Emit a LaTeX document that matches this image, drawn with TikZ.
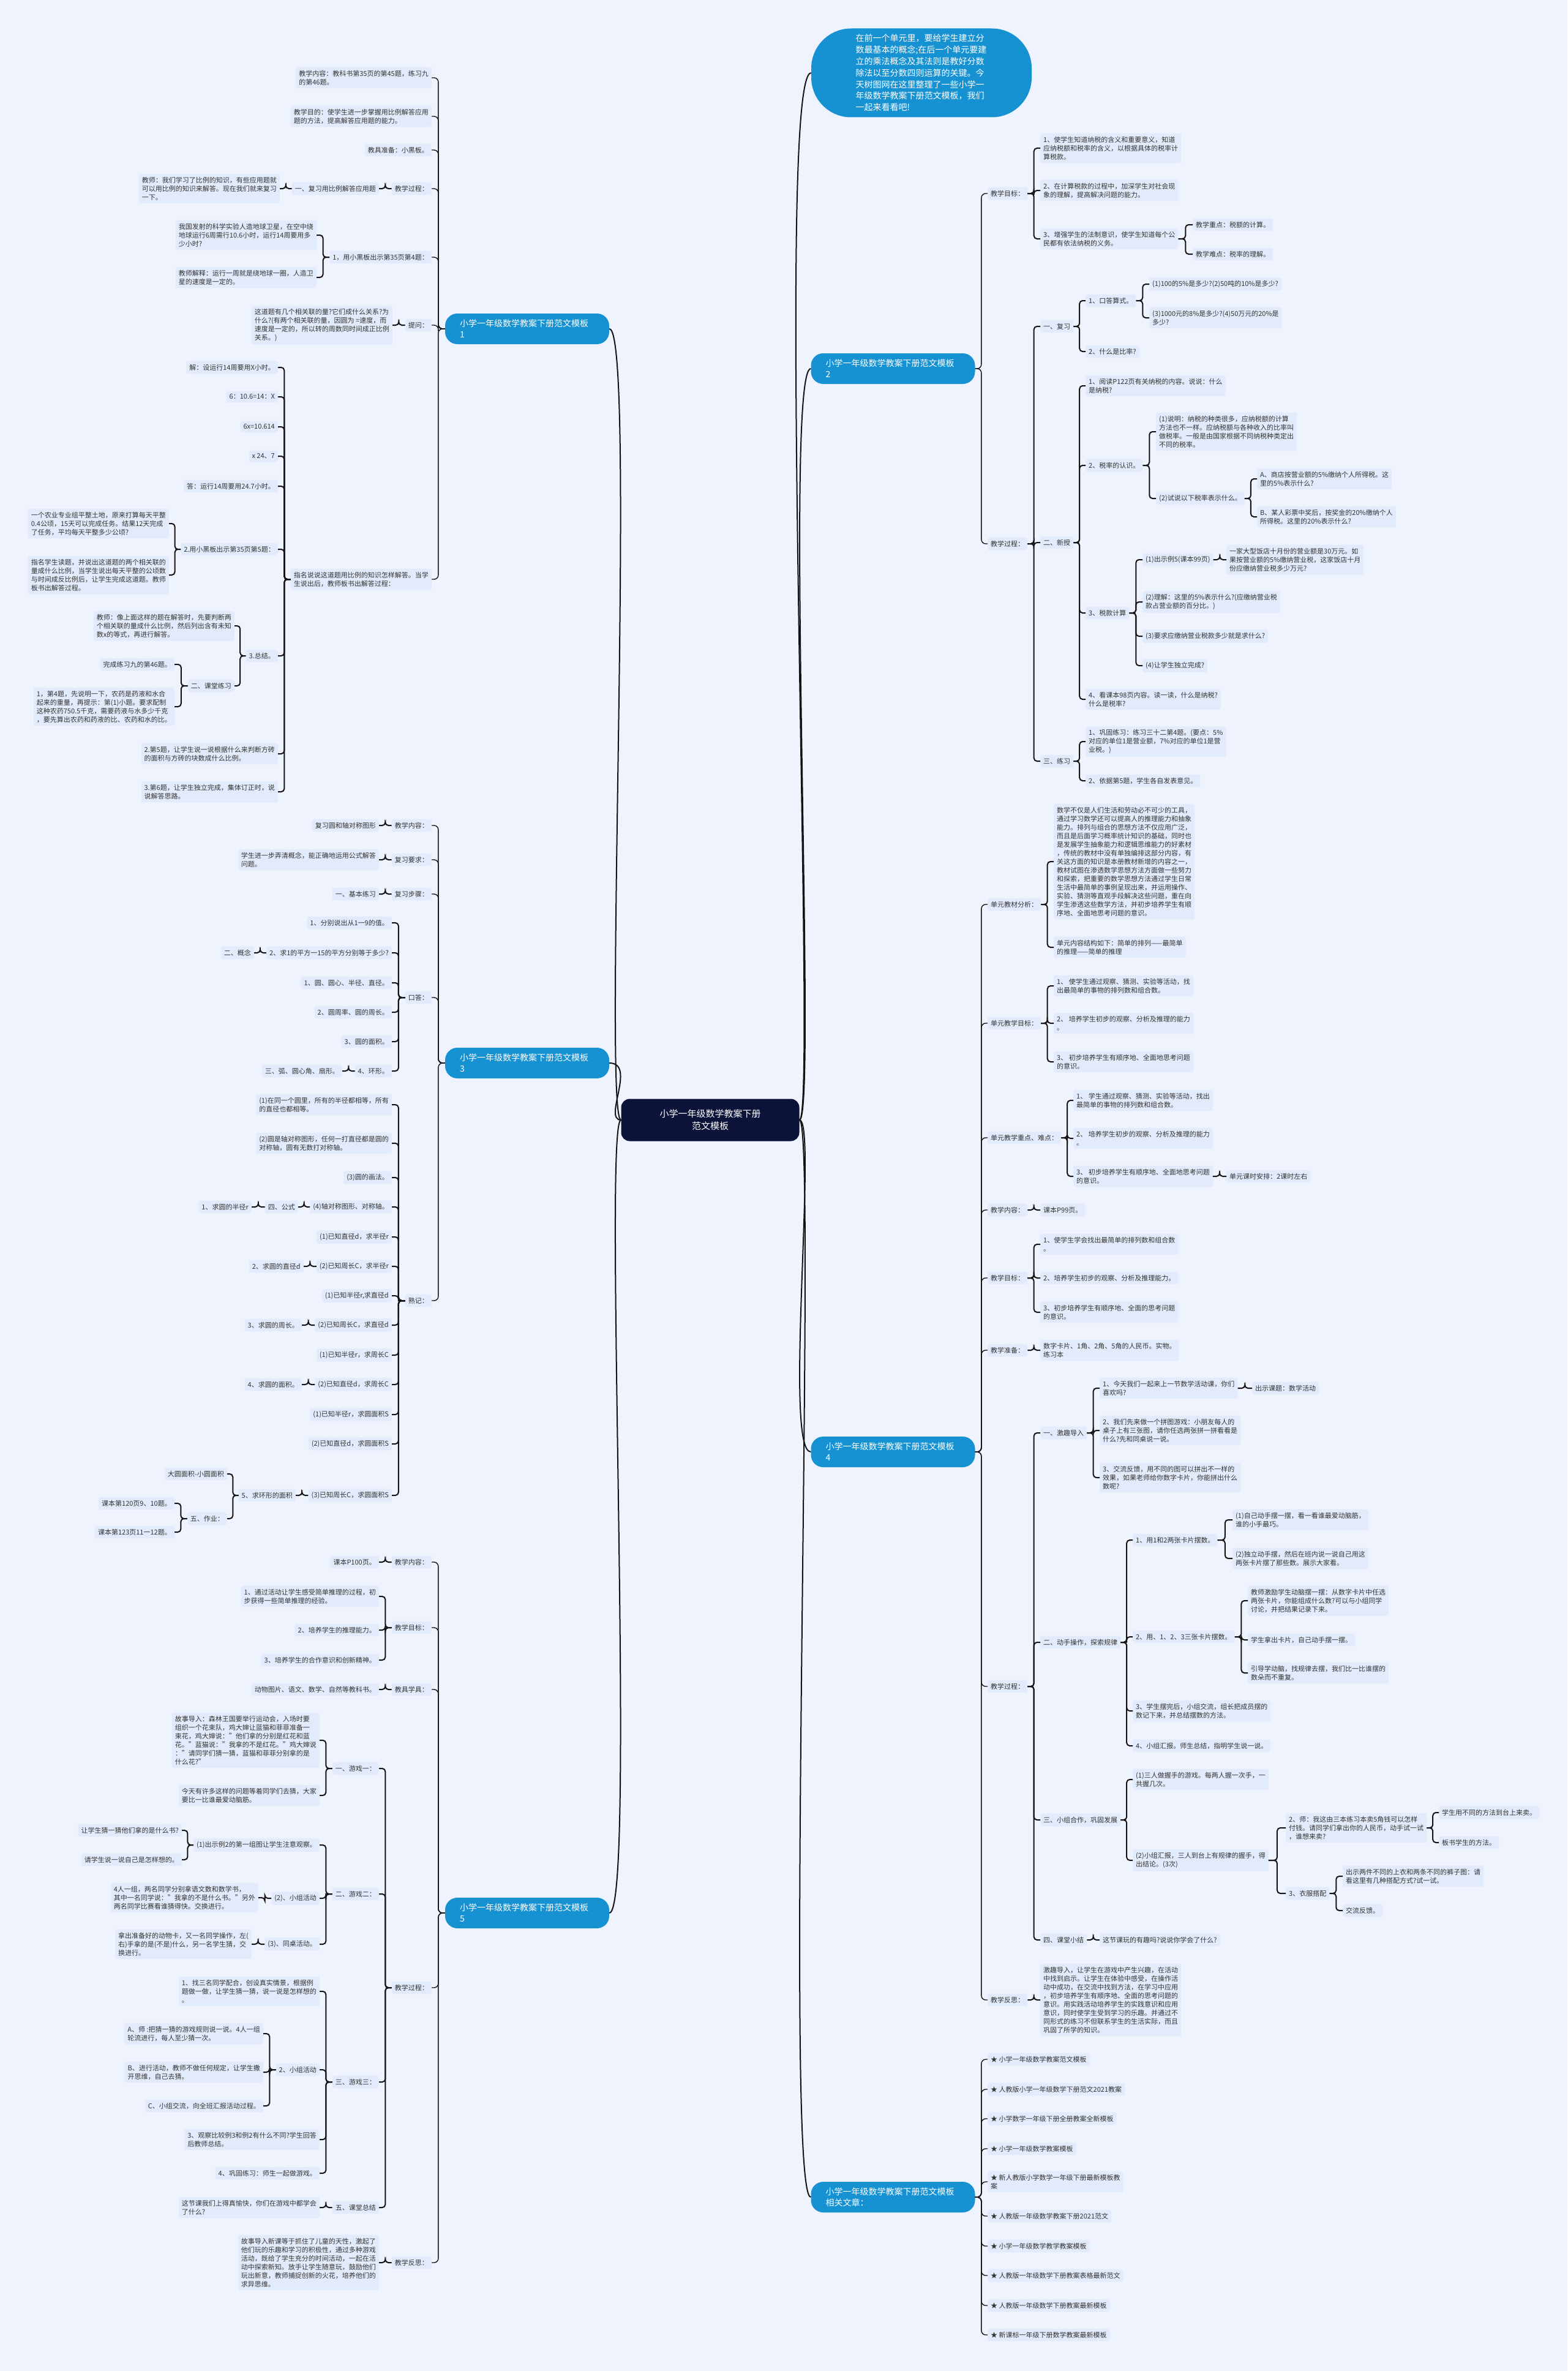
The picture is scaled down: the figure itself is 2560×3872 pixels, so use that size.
\documentclass[tikz,border=0pt]{standalone}
\usepackage{fontspec}
\setmainfont{Noto Sans CJK SC}
\usetikzlibrary{calc}
\definecolor{bgc}{RGB}{238,243,253}
\definecolor{leafc}{RGB}{226,235,251}
\definecolor{brc}{RGB}{22,145,210}
\definecolor{mainc}{RGB}{12,19,56}
\definecolor{linec}{RGB}{20,20,20}
\definecolor{txtc}{RGB}{51,51,51}
\newcommand\LinkL[3][br]{\draw[#1] (#2.west) -| ($(#2.west)!.5!(#3.east)$) |- (#3.east);}
\newcommand\LinkR[3][br]{\draw[#1] (#2.east) -| ($(#2.east)!.5!(#3.west)$) |- (#3.west);}
\tikzset{
 leaf/.style={fill=leafc, rounded corners=3pt, inner xsep=5pt, inner ysep=5pt, align=left, font=\fontsize{11}{14}\selectfont, text=txtc},
 L/.style={leaf, anchor=east},
 R/.style={leaf, anchor=west},
 branch/.style={fill=brc, text=white, rounded corners=20pt, minimum width=268pt, minimum height=50pt, text width=220pt, inner xsep=24pt, align=left, font=\fontsize{14}{18}\selectfont},
 br/.style={draw=linec, line width=2pt, rounded corners=5pt},
 lone/.style={draw=linec, line width=1.4pt, rounded corners=7pt},
 mline/.style={draw=linec, line width=2pt}
}
\begin{document}
\begin{tikzpicture}[x=1pt,y=-1pt]
\fill[bgc] (0,0) rectangle (2560,3872);
\useasboundingbox (0,0) rectangle (2560,3872);

% main
\node[fill=mainc, text=white, rounded corners=14pt, minimum width=291pt, minimum height=69pt, align=center, font=\fontsize{15}{20}\selectfont] (M) at (1160,1829) {小学一年级数学教案下册\\范文模板};

% branches
\node[fill=brc, text=white, rounded corners=65pt, minimum width=360pt, minimum height=145pt, text width=215pt, align=left, font=\fontsize{14}{18.8}\selectfont] (B0) at (1505,119) {在前一个单元里，要给学生建立分\\数最基本的概念;在后一个单元要建\\立的乘法概念及其法则是教好分数\\除法以至分数四则运算的关键。今\\天树图网在这里整理了一些小学一\\年级数学教案下册范文模板，我们\\一起来看看吧!};
\node[branch] (B1) at (861,537) {小学一年级数学教案下册范文模板\\1};
\node[branch] (B3) at (861,1736) {小学一年级数学教案下册范文模板\\3};
\node[branch] (B5) at (861,3124) {小学一年级数学教案下册范文模板\\5};
\node[branch] (B2) at (1458.5,602) {小学一年级数学教案下册范文模板\\2};
\node[branch] (B4) at (1458.5,2371) {小学一年级数学教案下册范文模板\\4};
\node[branch] (B6) at (1458.5,3588) {小学一年级数学教案下册范文模板\\相关文章：};

\draw[mline] (M.west) .. controls +(-30,0) and +(45,0) .. (B1.east);
\draw[mline] (M.west) .. controls +(-30,0) and +(45,0) .. (B3.east);
\draw[mline] (M.west) .. controls +(-30,0) and +(45,0) .. (B5.east);
\draw[mline] (M.east) .. controls +(30,0) and +(-60,0) .. (B0.west);
\draw[mline] (M.east) .. controls +(30,0) and +(-45,0) .. (B2.west);
\draw[mline] (M.east) .. controls +(30,0) and +(-45,0) .. (B4.west);
\draw[mline] (M.east) .. controls +(30,0) and +(-45,0) .. (B6.west);

%================ Node 1 =================
\node[L] (a1) at (705,127) {教学内容：教科书第35页的第45题，练习九\\的第46题。};
\node[L] (a2) at (705,190) {教学目的：使学生进一步掌握用比例解答应用\\题的方法，提高解答应用题的能力。};
\node[L] (a3) at (705,245) {教具准备：小黑板。};
\node[L] (a4) at (705,308) {教学过程：};
\node[L] (a41) at (619,308) {一、复习用比例解答应用题};
\node[L] (a411) at (457,308) {教师：我们学习了比例的知识，有些应用题就\\可以用比例的知识来解答。现在我们就来复习\\一下。};
\node[L] (a5) at (705,420) {1，用小黑板出示第35页第4题：};
\node[L] (a51) at (517,384) {我国发射的科学实验人造地球卫星，在空中绕\\地球运行6周需行10.6小时，运行14周要用多\\少小时?};
\node[L] (a52) at (517,453) {教师解释：运行一周就是绕地球一圈，人造卫\\星的速度是一定的。};
\node[L] (a6) at (705,531) {提问：};
\node[L] (a61) at (641,531) {这道题有几个相关联的量?它们成什么关系?为\\什么?(有两个相关联的量，因圆为 =速度，而\\速度是一定的，所以转的周数同时间成正比例\\关系。)};
\node[L] (a7) at (705,946) {指名说说这道题用比例的知识怎样解答。当学\\生说出后，教师板书出解答过程：};
\node[L] (a71) at (454,600) {解：设运行14周要用X小时。};
\node[L] (a72) at (454,648) {6：10.6=14：X};
\node[L] (a73) at (454,697) {6x=10.614};
\node[L] (a74) at (454,745) {x 24、7};
\node[L] (a75) at (454,794) {答：运行14周要用24.7小时。};
\node[L] (a76) at (454,897) {2.用小黑板出示第35页第5题：};
\node[L] (a761) at (276,855) {一个农业专业组平整土地，原来打算每天平整\\0.4公顷，15天可以完成任务。结果12天完成\\了任务，平均每天平整多少公顷?};
\node[L] (a762) at (276,939) {指名学生读题，并说出这道题的两个相关联的\\量成什么比例，当学生说出每天平整的公顷数\\与时间成反比例后，让学生完成这道题。教师\\板书出解答过程。};
\node[L] (a77) at (454,1071) {3.总结。};
\node[L] (a771) at (383,1022) {教师：像上面这样的题在解答时，先要判断两\\个相关联的量成什么比例，然后列出含有未知\\数x的等式，再进行解答。};
\node[L] (a772) at (383,1120) {二、课堂练习};
\node[L] (a7721) at (285,1085) {完成练习九的第46题。};
\node[L] (a7722) at (285,1154) {1，第4题，先说明一下，农药是药液和水合\\起来的重量，再提示：第(1)小题。要求配制\\这种农药750.5千克，需要药液与水多少千克\\，要先算出农药和药液的比、农药和水的比。};
\node[L] (a78) at (454,1231) {2.第5题，让学生说一说根据什么来判断方砖\\的面积与方砖的块数成什么比例。};
\node[L] (a79) at (454,1293) {3.第6题，让学生独立完成，集体订正时，说\\说解答思路。};

\foreach \c in {a1,a2,a3,a4,a5,a6,a7}{\LinkL[lone]{B1}{\c}}
\LinkL{a4}{a41} \LinkL{a41}{a411}
\LinkL{a5}{a51} \LinkL{a5}{a52}
\LinkL{a6}{a61}
\foreach \c in {a71,a72,a73,a74,a75,a76,a77,a78,a79}{\LinkL{a7}{\c}}
\LinkL{a76}{a761} \LinkL{a76}{a762}
\LinkL{a77}{a771} \LinkL{a77}{a772}
\LinkL{a772}{a7721} \LinkL{a772}{a7722}

%================ Node 3 =================
\node[L] (c1) at (705,1348) {教学内容：};
\node[L] (c11) at (619,1348) {复习圆和轴对称图形};
\node[L] (c2) at (705,1404) {复习要求：};
\node[L] (c21) at (619,1404) {学生进一步弄清概念，能正确地运用公式解答\\问题。};
\node[L] (c3) at (705,1460) {复习步骤：};
\node[L] (c31) at (619,1460) {一、基本练习};
\node[L] (c4) at (705,1629) {口答：};
\node[L] (c41) at (640,1507) {1、分别说出从1一9的值。};
\node[L] (c42) at (640,1556) {2、求1的平方一15的平方分别等于多少?};
\node[L] (c421) at (415,1556) {二、概念};
\node[L] (c43) at (640,1605) {1、圆、圆心、半径、直径。};
\node[L] (c44) at (640,1653) {2、圆周率、圆的周长。};
\node[L] (c45) at (640,1701) {3、圆的面积。};
\node[L] (c46) at (640,1749) {4、环形。};
\node[L] (c461) at (559,1749) {三、弧、圆心角、扇形。};
\node[L] (c5) at (705,2124) {熟记：};
\node[L] (c51) at (640,1804) {(1)在同一个圆里，所有的半径都相等，所有\\的直径也都相等。};
\node[L] (c52) at (640,1867) {(2)圆是轴对称图形，任何一打直径都是圆的\\对称轴，圆有无数打对称轴。};
\node[L] (c53) at (640,1923) {(3)圆的画法。};
\node[L] (c54) at (640,1971) {(4)轴对称图形、对称轴。};
\node[L] (c541) at (487,1971) {四、公式};
\node[L] (c5411) at (411,1971) {1、求圆的半径r};
\node[L] (c55) at (640,2020) {(1)已知直径d，求半径r};
\node[L] (c56) at (640,2068) {(2)已知周长C，求半径r};
\node[L] (c561) at (496,2068) {2、求圆的直径d};
\node[L] (c57) at (640,2116) {(1)已知半径r,求直径d};
\node[L] (c58) at (640,2164) {(2)已知周长C，求直径d};
\node[L] (c581) at (493,2164) {3、求圆的周长。};
\node[L] (c59) at (640,2213) {(1)已知半径r，求周长C};
\node[L] (c5a) at (640,2261) {(2)已知直径d，求周长C};
\node[L] (c5a1) at (493,2261) {4、求圆的面积。};
\node[L] (c5b) at (640,2310) {(1)已知半径r，求圆面积S};
\node[L] (c5c) at (640,2358) {(2)已知直径d，求圆面积S};
\node[L] (c5d) at (640,2442) {(3)已知周长C，求圆面积S};
\node[L] (c5d1) at (483,2442) {5、求环形的面积};
\node[L] (c5d11) at (371,2407) {大圆面积-小圆面积};
\node[L] (c5d12) at (371,2480) {五、作业：};
\node[L] (c5d121) at (285,2455) {课本第120页9、10题。};
\node[L] (c5d122) at (285,2502) {课本第123页11一12题。};

\foreach \c in {c1,c2,c3,c4,c5}{\LinkL[lone]{B3}{\c}}
\LinkL{c1}{c11} \LinkL{c2}{c21} \LinkL{c3}{c31}
\foreach \c in {c41,c42,c43,c44,c45,c46}{\LinkL{c4}{\c}}
\LinkL{c42}{c421} \LinkL{c46}{c461}
\foreach \c in {c51,c52,c53,c54,c55,c56,c57,c58,c59,c5a,c5b,c5c,c5d}{\LinkL{c5}{\c}}
\LinkL{c54}{c541} \LinkL{c541}{c5411}
\LinkL{c56}{c561} \LinkL{c58}{c581} \LinkL{c5a}{c5a1}
\LinkL{c5d}{c5d1} \LinkL{c5d1}{c5d11} \LinkL{c5d1}{c5d12}
\LinkL{c5d12}{c5d121} \LinkL{c5d12}{c5d122}

%================ Node 5 =================
\node[L] (e1) at (705,2551) {教学内容：};
\node[L] (e11) at (619,2551) {课本P100页。};
\node[L] (e2) at (705,2658) {教学目标：};
\node[L] (e21) at (619,2607) {1、通过活动让学生感受简单推理的过程，初\\步获得一些简单推理的经验。};
\node[L] (e22) at (619,2662) {2、培养学生的推理能力。};
\node[L] (e23) at (619,2711) {3、培养学生的合作意识和创新精神。};
\node[L] (e3) at (705,2759) {教具学具：};
\node[L] (e31) at (619,2759) {动物图片、语文、数学、自然等教科书。};
\node[L] (e4) at (705,3246) {教学过程：};
\node[L] (e41) at (619,2888) {一、游戏一：};
\node[L] (e411) at (522,2842) {故事导入：森林王国要举行运动会，入场时要\\组织一个花束队，鸡大婶让蓝猫和菲菲准备一\\束花，鸡大婶说："他们拿的分别是红花和蓝\\花。"蓝猫说："我拿的不是红花。"鸡大婶说\\："请同学们猜一猜，蓝猫和菲菲分别拿的是\\什么花?"};
\node[L] (e412) at (522,2932) {今天有许多这样的问题等着同学们去猜，大家\\要比一比谁最爱动脑筋。};
\node[L] (e42) at (619,3093) {二、游戏二：};
\node[L] (e421) at (522,3013) {(1)出示例2的第一组图让学生注意观察。};
\node[L] (e4211) at (297,2989) {让学生猜一猜他们拿的是什么书?};
\node[L] (e4212) at (297,3037) {请学生说一说自己是怎样想的。};
\node[L] (e422) at (522,3100) {(2)、小组活动};
\node[L] (e4221) at (422,3099) {4人一组，两名同学分别拿语文数和数学书，\\其中一名同学说："我拿的不是什么书。"另外\\两名同学比赛看谁猜得快。交换进行。};
\node[L] (e423) at (522,3175) {(3)、同桌活动。};
\node[L] (e4231) at (411,3175) {拿出准备好的动物卡，又一名同学操作，左(\\右)手拿的是(不是)什么，另一名学生猜，交\\换进行。};
\node[L] (e43) at (619,3400) {三、游戏三：};
\node[L] (e431) at (522,3252) {1、找三名同学配合，创设真实情景，根据例\\题做一做，让学生猜一猜，说一说是怎样想的\\。};
\node[L] (e432) at (522,3380) {2、小组活动};
\node[L] (e4321) at (430,3321) {A、师 :把猜一猜的游戏规则说一说。4人一组\\轮流进行，每人至少猜一次。};
\node[L] (e4322) at (430,3384) {B、进行活动，教师不做任何规定，让学生撒\\开思维，自己去猜。};
\node[L] (e4323) at (430,3439) {C、小组交流，向全班汇报活动过程。};
\node[L] (e433) at (522,3494) {3、观察比较例3和例2有什么不同?学生回答\\后教师总结。};
\node[L] (e434) at (522,3549) {4、巩固练习：师生一起做游戏。};
\node[L] (e44) at (619,3605) {五、课堂总结};
\node[L] (e441) at (522,3605) {这节课我们上得真愉快，你们在游戏中都学会\\了什么?};
\node[L] (e5) at (705,3695) {教学反思：};
\node[L] (e51) at (619,3695) {故事导入新课等于抓住了儿童的天性，激起了\\他们玩的乐趣和学习的积极性，通过多种游戏\\活动，既给了学生充分的时间活动，一起在活\\动中探索新知。放手让学生随意玩，鼓励他们\\玩出新意，教师捕捉创新的火花，培养他们的\\求异思维。};

\foreach \c in {e1,e2,e3,e4,e5}{\LinkL[lone]{B5}{\c}}
\LinkL{e1}{e11} \LinkL{e3}{e31} \LinkL{e5}{e51}
\foreach \c in {e21,e22,e23}{\LinkL{e2}{\c}}
\foreach \c in {e41,e42,e43,e44}{\LinkL{e4}{\c}}
\LinkL{e41}{e411} \LinkL{e41}{e412}
\foreach \c in {e421,e422,e423}{\LinkL{e42}{\c}}
\LinkL{e421}{e4211} \LinkL{e421}{e4212}
\LinkL{e422}{e4221} \LinkL{e423}{e4231}
\foreach \c in {e431,e432,e433,e434}{\LinkL{e43}{\c}}
\foreach \c in {e4321,e4322,e4323}{\LinkL{e432}{\c}}
\LinkL{e44}{e441}

%================ Node 2 =================
\node[R] (b1) at (1613,316) {教学目标：};
\node[R] (b11) at (1699,242) {1、使学生知道纳税的含义和重要意义，知道\\应纳税额和税率的含义，以根据具体的税率计\\算税款。};
\node[R] (b12) at (1699,311) {2、在计算税款的过程中，加深学生对社会现\\象的理解，提高解决问题的能力。};
\node[R] (b13) at (1699,390) {3、增强学生的法制意识，使学生知道每个公\\民都有依法纳税的义务。};
\node[R] (b131) at (1948,367) {教学重点：税额的计算。};
\node[R] (b132) at (1948,415) {教学难点：税率的理解。};
\node[R] (b2) at (1613,888) {教学过程：};
\node[R] (b21) at (1699,533) {一、复习};
\node[R] (b211) at (1773,491) {1、口答算式。};
\node[R] (b2111) at (1877,464) {(1)100的5\%是多少?(2)50吨的10\%是多少?};
\node[R] (b2112) at (1877,519) {(3)1000元的8\%是多少?(4)50万元的20\%是\\多少?};
\node[R] (b212) at (1773,574) {2、什么是比率?};
\node[R] (b22) at (1699,886) {二、新授};
\node[R] (b221) at (1773,630) {1、阅读P122页有关纳税的内容。说说：什么\\是纳税?};
\node[R] (b222) at (1773,760) {2、税率的认识。};
\node[R] (b2221) at (1888,705) {(1)说明：纳税的种类很多，应纳税额的计算\\方法也不一样。应纳税额与各种收入的比率叫\\做税率。一般是由国家根据不同纳税种类定出\\不同的税率。};
\node[R] (b2222) at (1888,814) {(2)试说以下税率表示什么。};
\node[R] (b22221) at (2053,782) {A、商店按营业额的5\%缴纳个人所得税。这\\里的5\%表示什么?};
\node[R] (b22222) at (2053,844) {B、某人彩票中奖后，按奖金的20\%缴纳个人\\所得税。这里的20\%表示什么?};
\node[R] (b223) at (1773,1001) {3、税款计算};
\node[R] (b2231) at (1866,914) {(1)出示例5(课本99页)};
\node[R] (b22311) at (2003,914) {一家大型饭店十月份的营业额是30万元。如\\果按营业额的5\%缴纳营业税，这家饭店十月\\份应缴纳营业税多少万元?};
\node[R] (b2232) at (1866,983) {(2)理解：这里的5\%表示什么?(应缴纳营业税\\款占营业额的百分比。)};
\node[R] (b2233) at (1866,1039) {(3)要求应缴纳营业税款多少就是求什么?};
\node[R] (b2234) at (1866,1087) {(4)让学生独立完成?};
\node[R] (b224) at (1773,1142) {4、看课本98页内容。读一读，什么是纳税?\\什么是税率?};
\node[R] (b23) at (1699,1243) {三、练习};
\node[R] (b231) at (1773,1211) {1、巩固练习：练习三十二第4题。(要点：5\%\\对应的单位1是营业额，7\%对应的单位1是营\\业税。)};
\node[R] (b232) at (1773,1275) {2、依据第5题，学生各自发表意见。};

\LinkR[lone]{B2}{b1} \LinkR[lone]{B2}{b2}
\foreach \c in {b11,b12,b13}{\LinkR{b1}{\c}}
\LinkR{b13}{b131} \LinkR{b13}{b132}
\foreach \c in {b21,b22,b23}{\LinkR{b2}{\c}}
\LinkR{b21}{b211} \LinkR{b21}{b212}
\LinkR{b211}{b2111} \LinkR{b211}{b2112}
\foreach \c in {b221,b222,b223,b224}{\LinkR{b22}{\c}}
\LinkR{b222}{b2221} \LinkR{b222}{b2222}
\LinkR{b2222}{b22221} \LinkR{b2222}{b22222}
\foreach \c in {b2231,b2232,b2233,b2234}{\LinkR{b223}{\c}}
\LinkR{b2231}{b22311}
\LinkR{b23}{b231} \LinkR{b23}{b232}

%================ Node 4 =================
\node[R] (d1) at (1613,1477) {单元教材分析：};
\node[R] (d11) at (1721,1407) {数学不仅是人们生活和劳动必不可少的工具，\\通过学习数学还可以提高人的推理能力和抽象\\能力。排列与组合的思想方法不仅应用广泛，\\而且是后面学习概率统计知识的基础，同时也\\是发展学生抽象能力和逻辑思维能力的好素材\\，传统的教材中没有单独编排这部分内容，有\\关这方面的知识是本册教材新增的内容之一，\\教材试图在渗透数学思想方法方面做一些努力\\和探索，把重要的数学思想方法通过学生日常\\生活中最简单的事例呈现出来，并运用操作、\\实验、猜测等直观手段解决这些问题，重在向\\学生渗透这些数学方法，并初步培养学生有顺\\序地、全面地思考问题的意识。};
\node[R] (d12) at (1721,1547) {单元内容结构如下：简单的排列——最简单\\的推理——简单的推理};
\node[R] (d2) at (1613,1671) {单元教学目标：};
\node[R] (d21) at (1721,1610) {1、 使学生通过观察、猜测、实验等活动，找\\出最简单的事物的排列数和组合数。};
\node[R] (d22) at (1721,1671) {2、 培养学生初步的观察、分析及推理的能力\\。};
\node[R] (d23) at (1721,1734) {3、 初步培养学生有顺序地、全面地思考问题\\的意识。};
\node[R] (d3) at (1613,1858) {单元教学重点、难点：};
\node[R] (d31) at (1753,1797) {1、 学生通过观察、猜测、实验等活动，找出\\最简单的事物的排列数和组合数。};
\node[R] (d32) at (1753,1859) {2、 培养学生初步的观察、分析及推理的能力\\。};
\node[R] (d33) at (1753,1921) {3、 初步培养学生有顺序地、全面地思考问题\\的意识。};
\node[R] (d331) at (2003,1921) {单元课时安排：2课时左右};
\node[R] (d4) at (1613,1976) {教学内容：};
\node[R] (d41) at (1699,1976) {课本P99页。};
\node[R] (d5) at (1613,2087) {教学目标：};
\node[R] (d51) at (1699,2032) {1、使学生学会找出最简单的排列数和组合数\\。};
\node[R] (d52) at (1699,2087) {2、培养学生初步的观察、分析及推理能力。};
\node[R] (d53) at (1699,2143) {3、初步培养学生有顺序地、全面的思考问题\\的意识。};
\node[R] (d6) at (1613,2205) {教学准备：};
\node[R] (d61) at (1699,2205) {数字卡片、1角、2角、5角的人民币。实物。\\练习本};
\node[R] (d7) at (1613,2754) {教学过程：};
\node[R] (d71) at (1699,2340) {一、激趣导入};
\node[R] (d711) at (1796,2267) {1、今天我们一起来上一节数学活动课，你们\\喜欢吗?};
\node[R] (d7111) at (2045,2267) {出示课题：数学活动};
\node[R] (d712) at (1796,2336) {2、我们先来做一个拼图游戏：小朋友每人的\\桌子上有三张图，请你任选两张拼一拼看看是\\什么?先和同桌说一说。};
\node[R] (d713) at (1796,2413) {3、交流反馈，用不同的图可以拼出不一样的\\效果，如果老师给你数字卡片，你能拼出什么\\数呢?};
\node[R] (d72) at (1699,2682) {二、动手操作，探索规律};
\node[R] (d721) at (1850,2515) {1、用1和2两张卡片摆数。};
\node[R] (d7211) at (2013,2482) {(1)自己动手摆一摆，看一看谁最爱动脑筋，\\谁的小手最巧。};
\node[R] (d7212) at (2013,2545) {(2)独立动手摆，然后在班内说一说自己用这\\两张卡片摆了那些数。展示大家看。};
\node[R] (d722) at (1850,2673) {2、用、1、2、3三张卡片摆数。};
\node[R] (d7221) at (2038,2614) {教师激励学生动脑摆一摆：从数字卡片中任选\\两张卡片，你能组成什么数?可以与小组同学\\讨论，并把结果记录下来。};
\node[R] (d7222) at (2038,2678) {学生拿出卡片，自己动手摆一摆。};
\node[R] (d7223) at (2038,2732) {引导学动脑，找规律去摆，我们比一比谁摆的\\数朵而不重复。};
\node[R] (d723) at (1850,2794) {3、学生摆完后，小组交流，组长把成员摆的\\数记下来，并总结摆数的方法。};
\node[R] (d724) at (1850,2851) {4、小组汇报。师生总结，指明学生说一说。};
\node[R] (d73) at (1699,2972) {三、小组合作，巩固发展};
\node[R] (d731) at (1850,2906) {(1)三人做握手的游戏。每两人握一次手，一\\共握几次。};
\node[R] (d732) at (1850,3038) {(2)小组汇报，三人到台上有规律的握手，得\\出结论。(3次)};
\node[R] (d7321) at (2100,2985) {2、师：我这由三本练习本卖5角钱可以怎样\\付钱。请同学们拿出你的人民币，动手试一试\\，谁想来卖?};
\node[R] (d73211) at (2350,2960) {学生用不同的方法到台上来卖。};
\node[R] (d73212) at (2350,3009) {板书学生的方法。};
\node[R] (d7322) at (2100,3092) {3、衣服搭配};
\node[R] (d73221) at (2193,3064) {出示两件不同的上衣和两条不同的裤子图：请\\看这里有几种搭配方式?试一试。};
\node[R] (d73222) at (2193,3120) {交流反馈。};
\node[R] (d74) at (1699,3168) {四、课堂小结};
\node[R] (d741) at (1796,3168) {这节课玩的有趣吗?说说你学会了什么?};
\node[R] (d8) at (1613,3266) {教学反思：};
\node[R] (d81) at (1699,3266) {激趣导入，让学生在游戏中产生兴趣，在活动\\中找到启示。让学生在体验中感受，在操作活\\动中成功，在交流中找到方法，在学习中应用\\，初步培养学生有顺序地、全面的思考问题的\\意识。用实践活动培养学生的实践意识和应用\\意识，同时使学生受到学习的乐趣。并通过不\\同形式的练习不但联系学生的生活实际，而且\\巩固了所学的知识。};

\foreach \c in {d1,d2,d3,d4,d5,d6,d7,d8}{\LinkR[lone]{B4}{\c}}
\LinkR{d1}{d11} \LinkR{d1}{d12}
\foreach \c in {d21,d22,d23}{\LinkR{d2}{\c}}
\foreach \c in {d31,d32,d33}{\LinkR{d3}{\c}}
\LinkR{d33}{d331} \LinkR{d4}{d41} \LinkR{d6}{d61} \LinkR{d8}{d81}
\foreach \c in {d51,d52,d53}{\LinkR{d5}{\c}}
\foreach \c in {d71,d72,d73,d74}{\LinkR{d7}{\c}}
\foreach \c in {d711,d712,d713}{\LinkR{d71}{\c}}
\LinkR{d711}{d7111}
\foreach \c in {d721,d722,d723,d724}{\LinkR{d72}{\c}}
\LinkR{d721}{d7211} \LinkR{d721}{d7212}
\foreach \c in {d7221,d7222,d7223}{\LinkR{d722}{\c}}
\LinkR{d73}{d731} \LinkR{d73}{d732}
\LinkR{d732}{d7321} \LinkR{d732}{d7322}
\LinkR{d7321}{d73211} \LinkR{d7321}{d73212}
\LinkR{d7322}{d73221} \LinkR{d7322}{d73222}
\LinkR{d74}{d741}

%================ Related =================
\node[R] (f1) at (1613,3363) {★ 小学一年级数学教案范文模板};
\node[R] (f2) at (1613,3412) {★ 人教版小学一年级数学下册范文2021教案};
\node[R] (f3) at (1613,3460) {★ 小学数学一年级下册全册教案全新模板};
\node[R] (f4) at (1613,3509) {★ 小学一年级数学教案模板};
\node[R] (f5) at (1613,3563) {★ 新人教版小学数学一年级下册最新模板教\\案};
\node[R] (f6) at (1613,3619) {★ 人教版一年级数学教案下册2021范文};
\node[R] (f7) at (1613,3668) {★ 小学一年级数学教学教案模板};
\node[R] (f8) at (1613,3716) {★ 人教版一年级数学下册教案表格最新范文};
\node[R] (f9) at (1613,3765) {★ 人教版一年级数学下册教案最新模板};
\node[R] (f10) at (1613,3813) {★ 新课标一年级下册数学教案最新模板};
\foreach \c in {f1,f2,f3,f4,f5,f6,f7,f8,f9,f10}{\LinkR[lone]{B6}{\c}}
\end{tikzpicture}
\end{document}
